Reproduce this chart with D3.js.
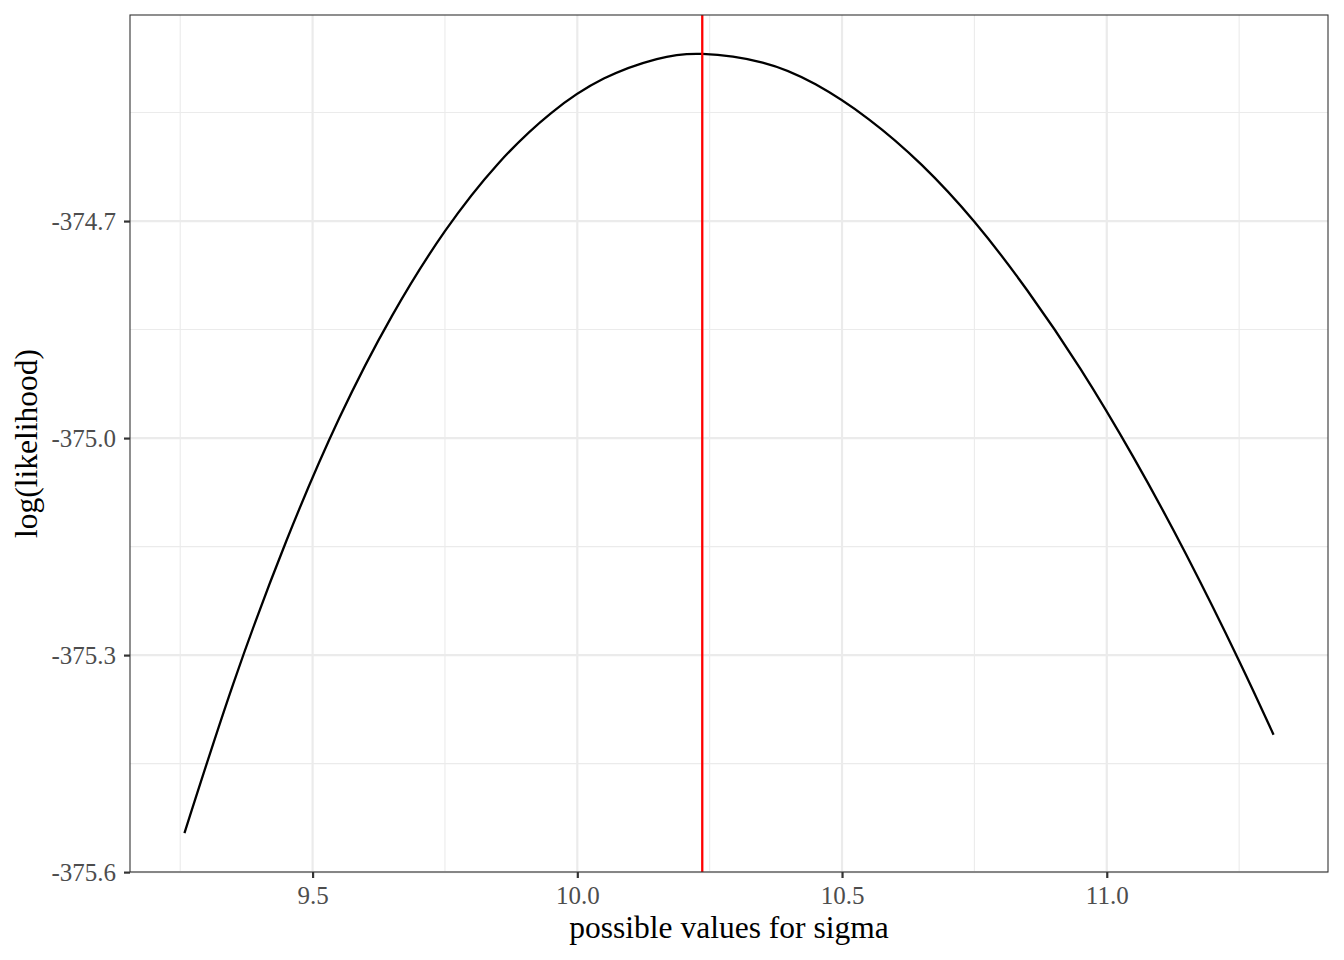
<!DOCTYPE html>
<html>
<head>
<meta charset="utf-8">
<script src="https://cdn.jsdelivr.net/npm/d3@7"></script>
<style>
  html, body { margin: 0; padding: 0; background: #fff; }
  svg { display: block; }
</style>
</head>
<body>
<svg id="chart" width="1344" height="960"></svg>
<script>
// sigma values (x) and log-likelihood values (y)
const sigmaValues = [9.258, 9.35, 9.45, 9.55, 9.65, 9.75, 9.85, 9.95, 10.05, 10.15, 10.236,
  10.35, 10.45, 10.55, 10.65, 10.75, 10.85, 10.95, 11.05, 11.15, 11.25, 11.315];
const logLikValues = [-375.546, -375.340, -375.143, -374.973, -374.831, -374.714, -374.621,
  -374.551, -374.503, -374.476, -374.469, -374.481, -374.511, -374.559, -374.622, -374.701,
  -374.796, -374.904, -375.026, -375.161, -375.308, -375.410];
const mleSigma = 10.236;
const xTicks = [9.5, 10.0, 10.5, 11.0];
const yTicks = [-374.7, -375.0, -375.3, -375.6];
const xLabel = "possible values for sigma";
const yLabel = "log(likelihood)";

const svg = d3.select("#chart");
const margin = {left: 130, right: 16, top: 15, bottom: 88};
const W = 1344, H = 960;
const pw = W - margin.left - margin.right;
const ph = H - margin.top - margin.bottom;

const xMin = d3.min(sigmaValues), xMax = d3.max(sigmaValues);
const yMin = d3.min(logLikValues), yMax = d3.max(logLikValues);
const xPad = (xMax - xMin) * 0.05, yPad = (yMax - yMin) * 0.05;

const x = d3.scaleLinear().domain([xMin - xPad, xMax + xPad]).range([margin.left, margin.left + pw]);
const y = d3.scaleLinear().domain([yMin - yPad, yMax + yPad]).range([margin.top + ph, margin.top]);

const font = "'Liberation Serif', 'Times New Roman', serif";

// minor gridlines (midpoints between breaks)
const xMinor = [xTicks[0] - 0.25].concat(xTicks.map(d => d + 0.25));
const yMinor = [yTicks[0] + 0.15].concat(yTicks.slice(0, -1).map(d => d - 0.15));

const g = svg.append("g");
g.append("rect").attr("x", margin.left).attr("y", margin.top).attr("width", pw).attr("height", ph).attr("fill", "#fff");

g.selectAll(".xminor").data(xMinor.filter(d => x(d) > margin.left && x(d) < margin.left + pw)).enter()
  .append("line").attr("x1", d => x(d)).attr("x2", d => x(d)).attr("y1", margin.top).attr("y2", margin.top + ph)
  .attr("stroke", "#ebebeb").attr("stroke-width", 1.1);
g.selectAll(".yminor").data(yMinor.filter(d => y(d) > margin.top && y(d) < margin.top + ph)).enter()
  .append("line").attr("y1", d => y(d)).attr("y2", d => y(d)).attr("x1", margin.left).attr("x2", margin.left + pw)
  .attr("stroke", "#ebebeb").attr("stroke-width", 1.1);
g.selectAll(".xmajor").data(xTicks).enter()
  .append("line").attr("x1", d => x(d)).attr("x2", d => x(d)).attr("y1", margin.top).attr("y2", margin.top + ph)
  .attr("stroke", "#ebebeb").attr("stroke-width", 2.2);
g.selectAll(".ymajor").data(yTicks).enter()
  .append("line").attr("y1", d => y(d)).attr("y2", d => y(d)).attr("x1", margin.left).attr("x2", margin.left + pw)
  .attr("stroke", "#ebebeb").attr("stroke-width", 2.2);

// curve
const line = d3.line().x((d, i) => x(sigmaValues[i])).y(d => y(d)).curve(d3.curveNatural);
g.append("path").datum(logLikValues).attr("d", line).attr("fill", "none").attr("stroke", "#000").attr("stroke-width", 2.3);

// red vertical line at MLE
g.append("line").attr("x1", x(mleSigma)).attr("x2", x(mleSigma)).attr("y1", margin.top).attr("y2", margin.top + ph)
  .attr("stroke", "#ff0000").attr("stroke-width", 2.3);

// axes
const xAxis = d3.axisBottom(x).tickValues(xTicks).tickFormat(d3.format(".1f")).tickSize(6).tickPadding(8);
const yAxis = d3.axisLeft(y).tickValues(yTicks).tickFormat(d3.format(".1f")).tickSize(6).tickPadding(8);

const gx = svg.append("g").attr("transform", `translate(0,${margin.top + ph})`).call(xAxis);
const gy = svg.append("g").attr("transform", `translate(${margin.left},0)`).call(yAxis);
[gx, gy].forEach(a => {
  a.attr("font-size", null).attr("font-family", null);
  a.select(".domain").remove();
  a.selectAll(".tick line").attr("stroke", "#333").attr("stroke-width", 2.2);
  a.selectAll(".tick text").attr("fill", "#4d4d4d").style("font-family", font).style("font-size", "25px");
});
gy.selectAll(".tick text").text(d => d3.format(".1f")(d).replace("−", "-"));

// panel border
svg.append("rect").attr("x", margin.left).attr("y", margin.top).attr("width", pw).attr("height", ph)
  .attr("fill", "none").attr("stroke", "#333").attr("stroke-width", 1.1);

// axis titles
svg.append("text").attr("x", margin.left + pw / 2).attr("y", 938).attr("text-anchor", "middle")
  .style("font-family", font).style("font-size", "31.5px").attr("fill", "#000").text(xLabel);
svg.append("text").attr("transform", `translate(37,${margin.top + ph / 2}) rotate(-90)`).attr("text-anchor", "middle")
  .style("font-family", font).style("font-size", "31.5px").attr("fill", "#000").text(yLabel);
</script>
</body>
</html>
